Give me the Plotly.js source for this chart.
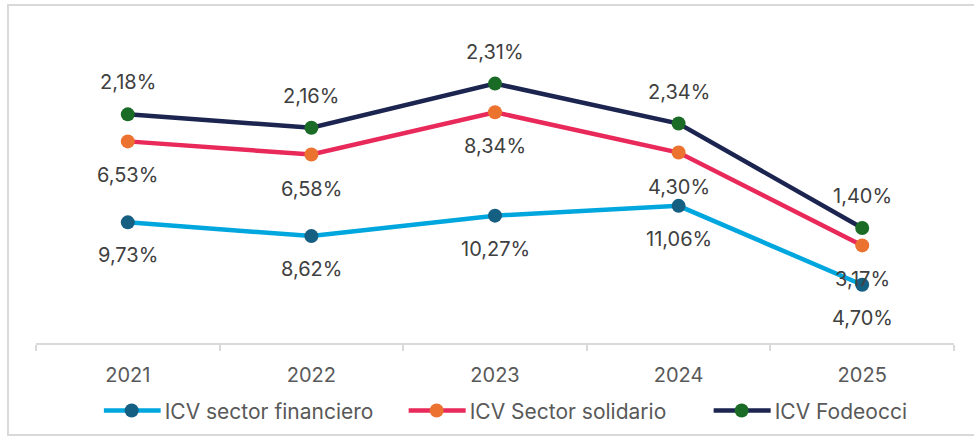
<!DOCTYPE html>
<html>
<head>
<meta charset="utf-8">
<script src="https://cdn.plot.ly/plotly-3.0.1.min.js"></script>
<style>
html,body{margin:0;padding:0;background:#fff;}
#wrap{position:relative;width:974px;height:436px;overflow:hidden;}
#chart{width:974px;height:436px;}
#frame{position:absolute;left:7px;top:4px;width:990px;height:428px;border:2px solid #D9D9D9;pointer-events:none;}
#err{position:absolute;left:20px;top:20px;color:red;font:12px monospace;}
</style>
</head>
<body>
<div id="wrap"><div id="chart"></div><div id="frame"></div><div id="err"></div></div>
<script>
window.onerror = function(m){ document.getElementById('err').textContent += ' ERR: ' + m; };
const years = ['2021', '2022', '2023', '2024', '2025'];
const financiero = [9.73, 8.62, 10.27, 11.06, 4.70];
const solidario = [6.53, 6.58, 8.34, 4.30, 3.17];
const fodeocci = [2.18, 2.16, 2.31, 2.34, 1.40];
const seriesNames = ['ICV sector financiero', 'ICV Sector solidario', 'ICV Fodeocci'];

const lineColors = ['#00A6DE', '#E8295A', '#1C2550'];
const markerColors = ['#155F82', '#EC7230', '#1A6B25'];
const labelShift = [-33, -34, 32];

const raw = [financiero, solidario, fodeocci];
const stacked = [];
raw.forEach((arr, i) => {
  stacked.push(arr.map((v, j) => v + (i > 0 ? stacked[i - 1][j] : 0)));
});

const fmt = v => v.toFixed(2).replace('.', ',') + '%';
const FONT = 'Inter, Open Sans, sans-serif';

const traces = raw.map((arr, i) => ({
  type: 'scatter',
  mode: 'lines+markers',
  name: seriesNames[i],
  x: years,
  y: stacked[i],
  line: {color: lineColors[i], width: 4.5},
  marker: {color: markerColors[i], size: 14},
  hoverinfo: 'skip'
}));

const annotations = [];
raw.forEach((arr, i) => {
  arr.forEach((v, j) => {
    annotations.push({
      x: j, y: stacked[i][j], xref: 'x', yref: 'y',
      text: fmt(v), showarrow: false, yshift: labelShift[i],
      xanchor: 'center', yanchor: 'middle',
      font: {family: FONT, size: 20, color: '#404040'}
    });
  });
});

const layout = {
  width: 974, height: 436,
  margin: {l: 36, r: 20, t: 33, b: 93, autoexpand: false},
  paper_bgcolor: '#fff', plot_bgcolor: '#fff',
  font: {family: FONT, color: '#595959'},
  showlegend: true,
  legend: {
    orientation: 'h', x: 0.0737, xanchor: 'left', y: -0.219, yanchor: 'middle',
    entrywidth: 260, entrywidthmode: 'pixels',
    font: {family: FONT, size: 21, color: '#595959'}, automargin: false
  },
  xaxis: {
    type: 'category', showgrid: false, zeroline: false, automargin: false,
    showline: true, linecolor: '#D9D9D9', linewidth: 1.5,
    ticks: 'outside', tickson: 'boundaries', ticklen: 6, tickcolor: '#D9D9D9', tickwidth: 1.5,
    tickfont: {family: FONT, size: 20, color: '#595959'}, ticklabelstandoff: 13,
    range: [-0.5, 4.5]
  },
  yaxis: {
    range: [0, 25], showgrid: false, zeroline: false, showline: false,
    showticklabels: false, ticks: '', automargin: false
  },
  annotations: annotations
};

Plotly.newPlot('chart', traces, layout, {displayModeBar: false}).then(gd => {
  // longer legend swatches like the original: line 57px, marker centred, text after it
  gd.querySelectorAll('.legend .legendlines path').forEach(p => p.setAttribute('d', 'M0,0h57'));
  gd.querySelectorAll('.legend .legendpoints path').forEach(p => p.setAttribute('transform', 'translate(28,0)'));
  gd.querySelectorAll('.legend text.legendtext').forEach(t => t.setAttribute('x', '61'));
}).catch(e => {
  document.getElementById('err').textContent += ' PERR: ' + e;
});
</script>
</body>
</html>
